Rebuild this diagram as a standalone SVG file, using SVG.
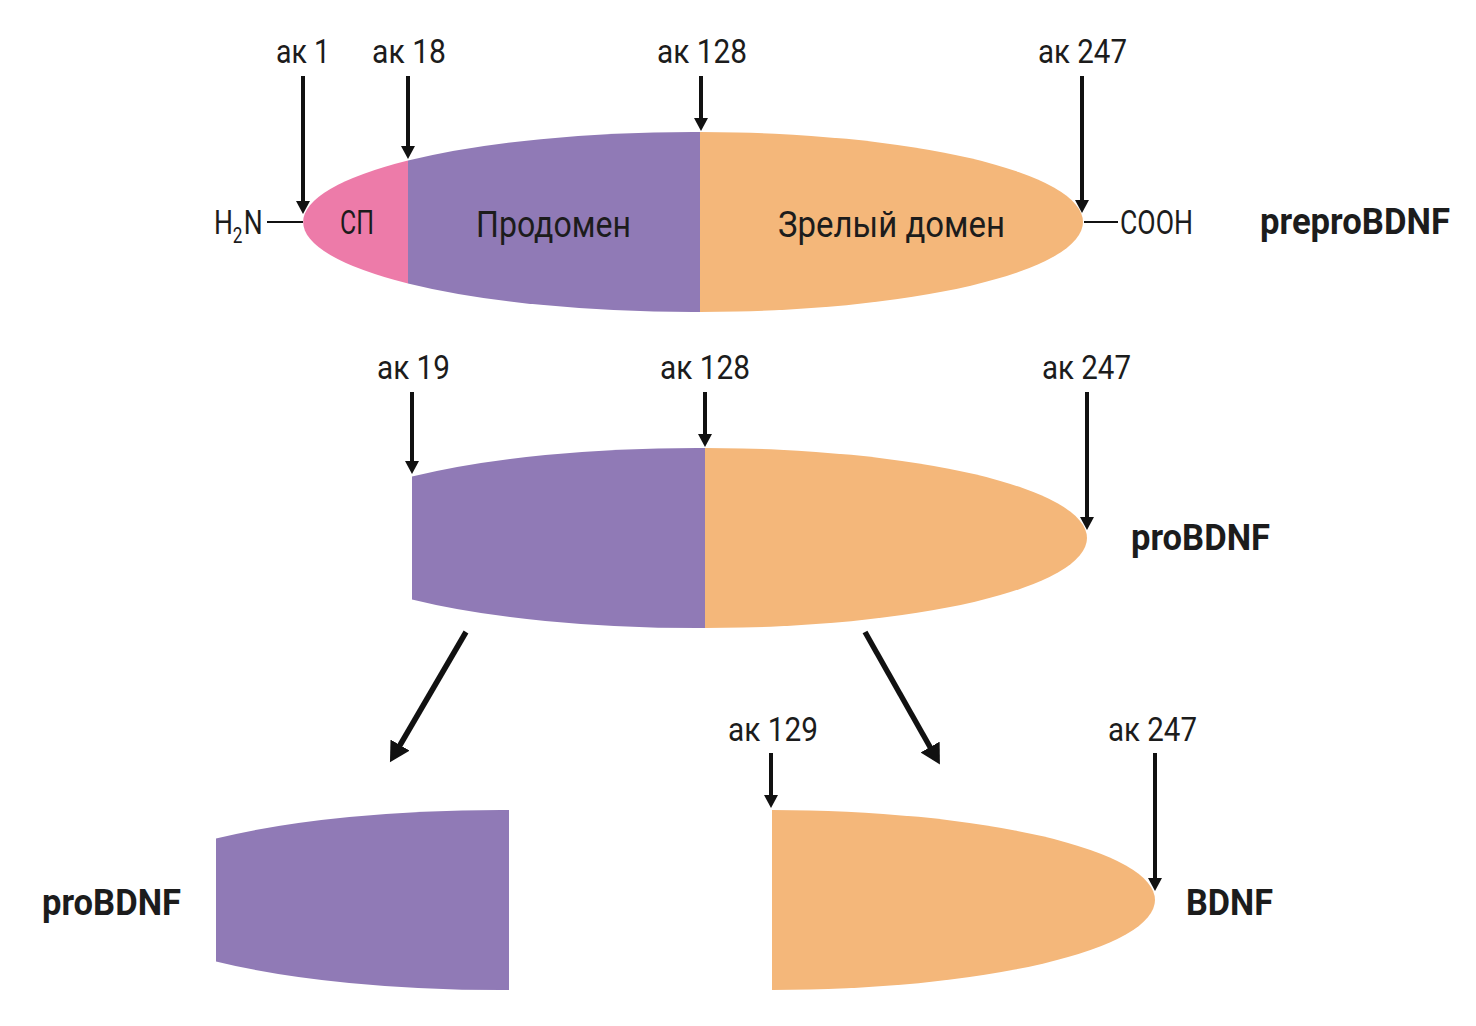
<svg xmlns="http://www.w3.org/2000/svg" width="1476" height="1026" viewBox="0 0 1476 1026">
<style>
.t{font-family:Roboto,"Liberation Sans",sans-serif;font-size:34px;fill:#1c1c1c;text-anchor:start}
.d{font-size:36px}
.b{font-weight:bold;font-size:36px}
.pk{fill:#ED7BA9}.pu{fill:#907AB6}.or{fill:#F4B77A}
.ar{stroke:#111;stroke-width:4;fill:none;marker-end:url(#ah)}
.ard{stroke:#111;stroke-width:5.5;fill:none;marker-end:url(#ahd)}
.ln{stroke:#111;stroke-width:2;fill:none}
</style>
<defs>
<marker id="ah" markerUnits="userSpaceOnUse" markerWidth="14" markerHeight="14" refX="5" refY="7" orient="auto"><path d="M0,0 L13,7 L0,14 Z" fill="#111"/></marker>
<marker id="ahd" markerUnits="userSpaceOnUse" markerWidth="22" markerHeight="22" refX="8" refY="11" orient="auto"><path d="M0,0 L20,11 L0,22 Z" fill="#111"/></marker>
</defs>
<rect width="1476" height="1026" fill="#fff"/>

<g id="preproBDNF">
<path class="pk" d="M408,160.6 A390,90 0 0 0 408,283.4 Z"/>
<path class="pu" d="M408,160.6 A390,90 0 0 1 700,132 L700,312 A390,90 0 0 1 408,283.4 Z"/>
<path class="or" d="M700,132 A383,90 0 0 1 700,312 Z"/>
<text class="t" x="340" y="234" textLength="34" lengthAdjust="spacingAndGlyphs">СП</text>
<text class="t d" x="476" y="237" textLength="155" lengthAdjust="spacingAndGlyphs">Продомен</text>
<text class="t d" x="778" y="237" textLength="227" lengthAdjust="spacingAndGlyphs">Зрелый домен</text>
<text class="t" transform="translate(214,234) scale(0.78,1)"><tspan x="0" y="0">H</tspan><tspan x="24" y="9" font-size="22">2</tspan><tspan x="38" y="0">N</tspan></text>
<line class="ln" x1="267" y1="222" x2="303" y2="222"/>
<line class="ln" x1="1084" y1="222" x2="1118" y2="222"/>
<text class="t" x="1120" y="234" textLength="73" lengthAdjust="spacingAndGlyphs">COOH</text>
<text class="t b" x="1260" y="234" textLength="190" lengthAdjust="spacingAndGlyphs">preproBDNF</text>
<text class="t" x="276" y="63" textLength="54" lengthAdjust="spacingAndGlyphs">ак 1</text>
<text class="t" x="372" y="63" textLength="74" lengthAdjust="spacingAndGlyphs">ак 18</text>
<text class="t" x="657" y="63" textLength="90" lengthAdjust="spacingAndGlyphs">ак 128</text>
<text class="t" x="1038" y="63" textLength="89" lengthAdjust="spacingAndGlyphs">ак 247</text>
</g>

<g id="proBDNF-full">
<path class="pu" d="M412,476.6 A390,90 0 0 1 705,448 L705,628 A390,90 0 0 1 412,599.4 Z"/>
<path class="or" d="M705,448 A382,90 0 0 1 705,628 Z"/>
<text class="t" x="377" y="379" textLength="73" lengthAdjust="spacingAndGlyphs">ак 19</text>
<text class="t" x="660" y="379" textLength="90" lengthAdjust="spacingAndGlyphs">ак 128</text>
<text class="t" x="1042" y="379" textLength="89" lengthAdjust="spacingAndGlyphs">ак 247</text>
<text class="t b" x="1131" y="550" textLength="139" lengthAdjust="spacingAndGlyphs">proBDNF</text>
</g>

<g id="proBDNF-pro">
<path class="pu" d="M216,838.6 A390,90 0 0 1 509,810 L509,990 A390,90 0 0 1 216,961.4 Z"/>
<text class="t b" x="42" y="915" textLength="139" lengthAdjust="spacingAndGlyphs">proBDNF</text>
</g>

<g id="BDNF">
<path class="or" d="M772,810 A383,90 0 0 1 772,990 Z"/>
<text class="t" x="728" y="741" textLength="90" lengthAdjust="spacingAndGlyphs">ак 129</text>
<text class="t" x="1108" y="741" textLength="89" lengthAdjust="spacingAndGlyphs">ак 247</text>
<text class="t b" x="1186" y="915" textLength="87" lengthAdjust="spacingAndGlyphs">BDNF</text>
</g>

<g id="connectors">
<line class="ar" x1="303" y1="76" x2="303" y2="206"/>
<line class="ar" x1="408" y1="76" x2="408" y2="151"/>
<line class="ar" x1="701" y1="76" x2="701" y2="123"/>
<line class="ar" x1="1082" y1="76" x2="1082" y2="205"/>
<line class="ar" x1="412" y1="392" x2="412" y2="466"/>
<line class="ar" x1="705" y1="392" x2="705" y2="439"/>
<line class="ar" x1="1087" y1="392" x2="1087" y2="522"/>
<line class="ar" x1="771" y1="753" x2="771" y2="800"/>
<line class="ar" x1="1155" y1="753" x2="1155" y2="883"/>
<line class="ard" x1="466" y1="632" x2="396" y2="752"/>
<line class="ard" x1="865" y1="632" x2="934" y2="754"/>
</g>
</svg>
